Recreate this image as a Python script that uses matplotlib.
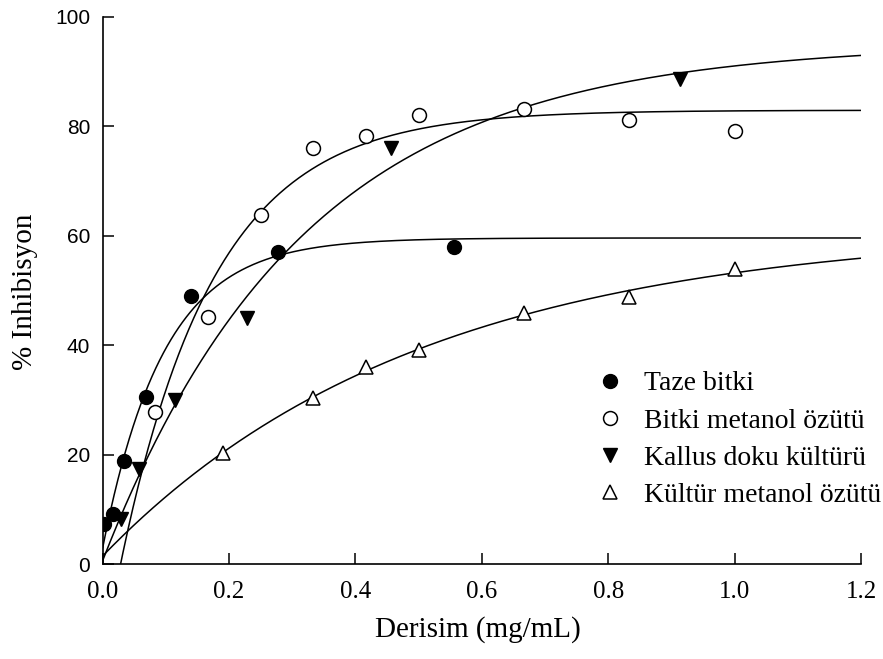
import numpy as np
import matplotlib
matplotlib.use("Agg")
import matplotlib.pyplot as plt
from matplotlib.lines import Line2D

# ---- data ----
taze_x = [0.002, 0.017, 0.034, 0.069, 0.139, 0.278, 0.556]
taze_y = [7.3, 9.1, 18.8, 30.5, 49.0, 57.1, 57.9]

bitki_x = [0.083, 0.167, 0.25, 0.333, 0.417, 0.5, 0.667, 0.833, 1.0]
bitki_y = [27.8, 45.1, 63.8, 76.1, 78.2, 82.1, 83.1, 81.1, 79.1]

kallus_x = [0.0285, 0.057, 0.114, 0.228, 0.457, 0.913]
kallus_y = [8.2, 17.3, 29.9, 45.0, 76.1, 88.6]

kultur_x = [0.19, 0.333, 0.417, 0.5, 0.667, 0.833, 1.0]
kultur_y = [20.3, 30.3, 36.0, 39.1, 45.8, 48.9, 53.9]

labels = ["Taze bitki", "Bitki metanol özütü", "Kallus doku kültürü", "Kültür metanol özütü"]
xticks = [0.0, 0.2, 0.4, 0.6, 0.8, 1.0, 1.2]
yticks = [0, 20, 40, 60, 80, 100]


def fit_exp_rise(x, y):
    """Least-squares fit of y = y0 + a*(1-exp(-b*x)) (grid over b, linear for y0,a)."""
    x = np.asarray(x, float)
    y = np.asarray(y, float)
    best = None
    for b in np.logspace(-2, 2.5, 4000):
        e = np.exp(-b * x)
        A = np.column_stack([np.ones_like(x), e])
        coef, *_ = np.linalg.lstsq(A, y, rcond=None)
        r = np.sum((A @ coef - y) ** 2)
        if best is None or r < best[0]:
            best = (r, b, coef)
    _, b, (c0, c1) = best
    return lambda t: c0 + c1 * np.exp(-b * t)


W, H = 883, 659
fig = plt.figure(figsize=(W / 100, H / 100), dpi=100)
ax = fig.add_axes([102.7 / W, 1 - 564 / H, (861 - 102.7) / W, (564 - 17) / H])

serif = "Liberation Serif"
sans = "Liberation Sans"

xx = np.linspace(0, 1.2, 600)
for xs, ys in [(taze_x, taze_y), (bitki_x, bitki_y), (kallus_x, kallus_y), (kultur_x, kultur_y)]:
    f = fit_exp_rise(xs, ys)
    ax.plot(xx, f(xx), color="black", lw=1.1, zorder=2)

ms = 10
ax.plot(taze_x, taze_y, "o", ms=ms, mfc="black", mec="black", mew=1.0, ls="none", zorder=3)
ax.plot(bitki_x, bitki_y, "o", ms=ms, mfc="white", mec="black", mew=1.1, ls="none", zorder=3)
ax.plot(kallus_x, kallus_y, "v", ms=ms, mfc="black", mec="black", mew=1.0, ls="none", zorder=3)
ax.plot(kultur_x, kultur_y, "^", ms=ms, mfc="white", mec="black", mew=1.1, ls="none", zorder=3)

ax.set_xlim(0, 1.2)
ax.set_ylim(0, 100)
ax.set_xticks(xticks)
ax.set_xticklabels([f"{t:.1f}" for t in xticks], fontfamily=serif, fontsize=18)
ax.set_yticks(yticks)
ax.set_yticklabels([str(t) for t in yticks], fontfamily=sans, fontsize=15)
ax.tick_params(direction="in", length=8, width=1.1)
ax.tick_params(axis="x", pad=12)
ax.tick_params(axis="y", pad=9)
for s in ["top", "right"]:
    ax.spines[s].set_visible(False)
for s in ["left", "bottom"]:
    ax.spines[s].set_linewidth(1.2)

ax.set_xlabel("Derisim (mg/mL)", fontfamily=serif, fontsize=21)
ax.set_ylabel("% Inhibisyon", fontfamily=serif, fontsize=21)
ax.xaxis.set_label_coords(0.495, (630 - 564) / -(564 - 17), transform=ax.transAxes)
ax.xaxis.label.set_va("center")
ax.yaxis.set_label_coords((25 - 102.7) / (861 - 102.7), (564 - 292) / (564 - 17), transform=ax.transAxes)
ax.yaxis.label.set_va("center")

handles = [
    Line2D([], [], marker="o", ms=ms, mfc="black", mec="black", ls="none"),
    Line2D([], [], marker="o", ms=ms, mfc="white", mec="black", mew=1.1, ls="none"),
    Line2D([], [], marker="v", ms=ms, mfc="black", mec="black", ls="none"),
    Line2D([], [], marker="^", ms=ms, mfc="white", mec="black", mew=1.1, ls="none"),
]
leg = fig.legend(handles, labels, loc="upper right", bbox_to_anchor=(881 / W, 1 - 371 / H),
                 frameon=False, prop={"family": serif, "size": 20},
                 handlelength=1.2, handletextpad=0.6, labelspacing=0.42,
                 borderaxespad=0, borderpad=0)

fig.savefig("out.png", dpi=100)
